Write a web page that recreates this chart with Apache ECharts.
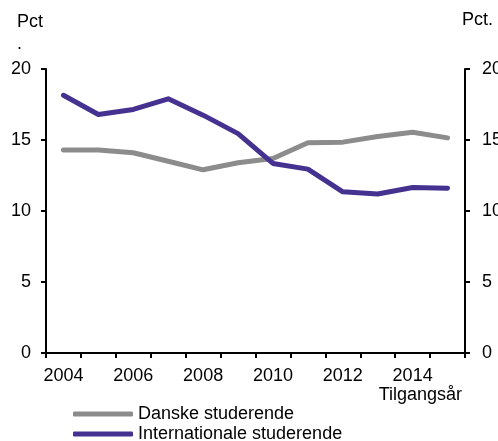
<!DOCTYPE html>
<html>
<head>
<meta charset="utf-8">
<script src="https://cdn.jsdelivr.net/npm/echarts@6/dist/echarts.min.js"></script>
<style>
html,body{margin:0;padding:0;background:#fff;}
#chart{width:498px;height:441px;}
</style>
</head>
<body>
<div id="chart"></div>
<script>
var years = ['2004','2005','2006','2007','2008','2009','2010','2011','2012','2013','2014','2015'];
var danske = [14.3, 14.3, 14.1, 13.5, 12.9, 13.4, 13.7, 14.8, 14.85, 15.25, 15.55, 15.15];
var internationale = [18.15, 16.8, 17.15, 17.9, 16.75, 15.45, 13.35, 12.95, 11.35, 11.2, 11.65, 11.6];
var yTicks = [0, 5, 10, 15, 20];
var seriesNames = ['Danske studerende', 'Internationale studerende'];

var FONT = 'Liberation Sans, Arial, sans-serif';
var txt = {color:'#000', fontFamily: FONT, fontSize: 18};

var chart = echarts.init(document.getElementById('chart'));
var yAxisBase = function(pos){
  return {
    type:'value', position: pos, min: yTicks[0], max: yTicks[yTicks.length-1], interval: 5,
    axisLine:{show:true, lineStyle:{color:'#000', width:2}},
    axisTick:{show:true, length:5, lineStyle:{color:'#000', width:2}},
    splitLine:{show:false},
    axisLabel:Object.assign({margin: pos==='left'?15:17}, txt)
  };
};
var legendBase = function(name, top){
  return {
    orient:'vertical', left:73, top:top, padding:0, itemGap:0,
    itemWidth:60, itemHeight:5, icon:'roundRect',
    textStyle:Object.assign({lineHeight:20}, txt),
    data:[name]
  };
};
chart.setOption({
  animation:false,
  backgroundColor:'#fff',
  title:[
    {text:'Pct\n.', left:17, top:11, padding:0, textStyle:Object.assign({fontWeight:'normal', lineHeight:22}, txt)},
    {text:'Pct.', left:462, top:11, padding:0, textStyle:Object.assign({fontWeight:'normal'}, txt)},
    {text:'Tilgangsår', right:36, top:386, padding:0, textStyle:Object.assign({fontWeight:'normal'}, txt)}
  ],
  grid:{left:46, right:33, top:69, bottom:88, containLabel:false, outerBoundsMode:'none'},
  legend:[legendBase(seriesNames[0], 404), legendBase(seriesNames[1], 424)],
  xAxis:{
    type:'category', data: years, boundaryGap:true,
    axisLine:{show:true, lineStyle:{color:'#000', width:2}},
    axisTick:{show:true, length:5, interval:0, lineStyle:{color:'#000', width:2}},
    axisLabel:Object.assign({interval:1, margin:14}, txt),
    splitLine:{show:false}
  },
  yAxis:[yAxisBase('left'), yAxisBase('right')],
  series:[
    {name:seriesNames[0], type:'line', data: danske, yAxisIndex:0, symbol:'none',
     itemStyle:{color:'#8C8C8C'}, lineStyle:{color:'#8C8C8C', width:5, cap:'round', join:'round'}},
    {name:seriesNames[1], type:'line', data: internationale, yAxisIndex:0, symbol:'none',
     itemStyle:{color:'#45318F'}, lineStyle:{color:'#45318F', width:5, cap:'round', join:'round'}}
  ]
});
</script>
</body>
</html>
